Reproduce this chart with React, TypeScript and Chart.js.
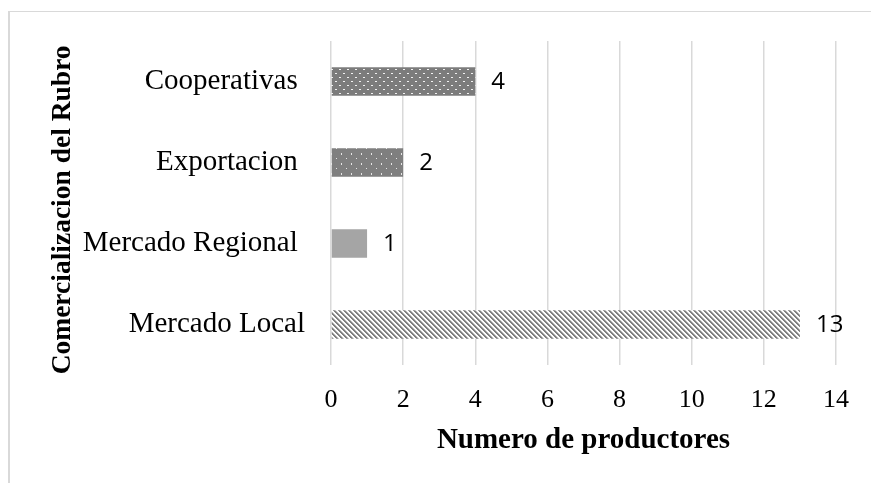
import React, { useEffect, useRef } from "react";
import { Chart, registerables } from "chart.js";

Chart.register(...registerables);

const categories = ["Cooperativas ", "Exportacion ", "Mercado Regional ", "Mercado Local"];
const productores = [4, 2, 1, 13];
const xTickMin = 0;
const xTickMax = 14;
const xTickStep = 2;
const xTitle = "Numero de productores";
const yTitle = "Comercializacion del Rubro  ";

function makePattern(
  ctx: CanvasRenderingContext2D,
  w: number,
  h: number,
  draw: (g: CanvasRenderingContext2D) => void
): CanvasPattern | string {
  const c = document.createElement("canvas");
  c.width = w;
  c.height = h;
  const g = c.getContext("2d");
  if (!g) return "#808080";
  draw(g);
  return ctx.createPattern(c, "repeat") || "#808080";
}

const valueLabels = {
  id: "valueLabels",
  afterDatasetsDraw(chart: any) {
    const ctx = chart.ctx;
    chart.data.datasets.forEach((ds: any, i: number) => {
      const meta = chart.getDatasetMeta(i);
      meta.data.forEach((el: any, j: number) => {
        ctx.save();
        ctx.font = '24px "Open Sans", "Noto Sans", sans-serif';
        ctx.fillStyle = "#000000";
        ctx.textAlign = "left";
        ctx.textBaseline = "middle";
        ctx.fillText(String(ds.data[j]), el.x + 16, el.y + 1);
        ctx.restore();
      });
    });
  },
};

export default function App() {
  const ref = useRef<HTMLCanvasElement | null>(null);

  useEffect(() => {
    const canvas = ref.current;
    if (!canvas) return;
    const ctx = canvas.getContext("2d");
    if (!ctx) return;

    const coop = makePattern(ctx, 8, 8, (g) => {
      g.fillStyle = "#7c7c7c";
      g.fillRect(0, 0, 8, 8);
      g.fillStyle = "#f2f2f2";
      g.fillRect(1, 1, 2, 1);
      g.fillRect(5, 5, 2, 1);
    });
    const expo = makePattern(ctx, 10, 10, (g) => {
      g.fillStyle = "#7f7f7f";
      g.fillRect(0, 0, 10, 10);
      g.fillStyle = "#e6e6e6";
      g.fillRect(1, 1, 1, 2);
      g.fillRect(6, 6, 1, 1);
    });
    const N = 5;
    const local = makePattern(ctx, N, N, (g) => {
      const img = g.createImageData(N, N);
      for (let y = 0; y < N; y++) {
        for (let x = 0; x < N; x++) {
          const k = (((x - y) % N) + N) % N;
          const v = k < 2 ? 128 : k === 2 ? 190 : 255;
          const p = (y * N + x) * 4;
          img.data[p] = v;
          img.data[p + 1] = v;
          img.data[p + 2] = v;
          img.data[p + 3] = 255;
        }
      }
      g.putImageData(img, 0, 0);
    });

    const chart = new Chart(canvas, {
      type: "bar",
      data: {
        labels: categories,
        datasets: [
          {
            data: productores,
            backgroundColor: [coop, expo, "#a5a5a5", local] as any,
            borderWidth: 0,
            categoryPercentage: 1,
            barPercentage: 0.35,
          },
        ],
      },
      options: {
        indexAxis: "y",
        animation: false,
        responsive: false,
        layout: { padding: { left: 0, right: 35, top: 29, bottom: 24.6 } },
        plugins: {
          legend: { display: false },
          tooltip: { enabled: false },
        },
        scales: {
          x: {
            min: xTickMin,
            max: xTickMax,
            ticks: {
              stepSize: xTickStep,
              padding: 19.3,
              color: "#000000",
              font: { family: '"Liberation Serif", "Times New Roman", serif', size: 26 },
            },
            grid: { color: "#d9d9d9", lineWidth: 1.5, drawTicks: false },
            border: { display: false },
            title: {
              display: true,
              text: xTitle,
              color: "#000000",
              padding: 0,
              font: { family: '"Liberation Serif", "Times New Roman", serif', size: 29, weight: "bold" },
            },
            afterFit: (scale: any) => {
              scale.height = 93.4;
              scale.paddingLeft = 0;
              scale.paddingRight = 0;
            },
          } as any,
          y: {
            ticks: {
              padding: 26,
              color: "#000000",
              font: { family: '"Liberation Serif", "Times New Roman", serif', size: 29 },
            },
            grid: { display: false, drawTicks: false },
            border: { display: false },
            title: {
              display: true,
              text: yTitle,
              color: "#000000",
              padding: { top: 36.7, bottom: 0 },
              font: { family: '"Liberation Serif", "Times New Roman", serif', size: 27.5, weight: "bold" },
            },
            afterFit: (scale: any) => {
              scale.width = 321;
              scale.paddingTop = 0;
              scale.paddingBottom = 0;
            },
          } as any,
        },
      },
      plugins: [valueLabels],
    });

    return () => {
      chart.destroy();
    };
  }, []);

  return (
    <div>
      <div
        style={{
          position: "fixed",
          left: 8,
          top: 11,
          width: 863,
          height: 472,
          boxSizing: "border-box",
          borderTop: "1px solid #d9d9d9",
          borderLeft: "2px solid #d9d9d9",
          background: "#ffffff",
        }}
      />
      <canvas
        ref={ref}
        width={861}
        height={471}
        style={{ position: "fixed", left: 10, top: 12, width: 861, height: 471 }}
      />
    </div>
  );
}
